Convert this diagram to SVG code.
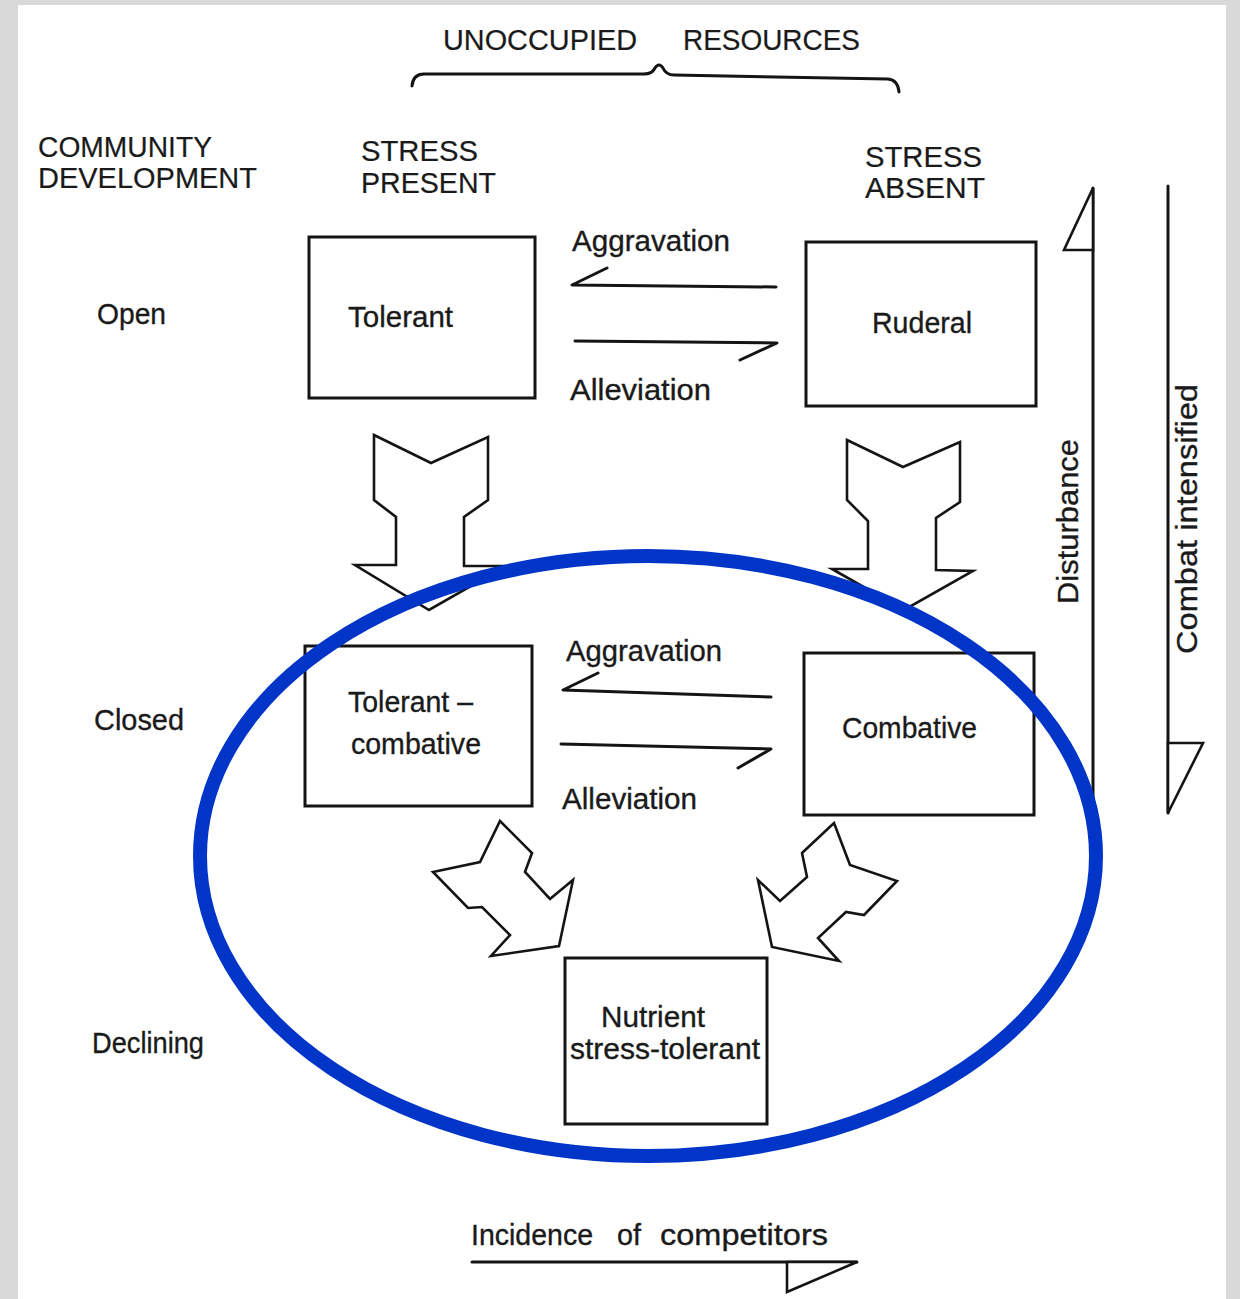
<svg xmlns="http://www.w3.org/2000/svg" width="1240" height="1299" viewBox="0 0 1240 1299">
  <defs>
    <style>
      .t { font-family: "Liberation Sans", Arial, sans-serif; fill: #1a1a1a; font-size: 30px; stroke: #1a1a1a; stroke-width: 0.35; }
      .cap { font-size: 29px; stroke-width: 0.2; }
      .box { fill: none; stroke: #141414; stroke-width: 3; }
      .ln { fill: none; stroke: #141414; stroke-width: 3; stroke-linecap: round; stroke-linejoin: round; }
      .blk { fill: #ffffff; stroke: #141414; stroke-width: 2.6; stroke-linejoin: miter; }
      .tri { fill: #ffffff; stroke: #141414; stroke-width: 2.6; stroke-linejoin: miter; }
    </style>
  </defs>

  <!-- page -->
  <rect x="0" y="0" width="1240" height="1299" fill="#d9d9d9"/>
  <rect x="18" y="5" width="1208" height="1294" fill="#ffffff"/>

  <!-- headers -->
  <g id="header-unoccupied">
    <text class="t cap" x="443" y="50" textLength="194" lengthAdjust="spacingAndGlyphs">UNOCCUPIED</text>
    <text class="t cap" x="683" y="50" textLength="177" lengthAdjust="spacingAndGlyphs">RESOURCES</text>
    <path class="ln" d="M412,86 Q413,74 424,74 L644,74 Q652,74 655,68 Q659,62 663,68 Q666,75 674,75 L888,79 Q898,80 899,92" stroke-width="2.6"/>
  </g>
  <g id="header-community">
    <text class="t cap" x="38" y="157" textLength="174" lengthAdjust="spacingAndGlyphs">COMMUNITY</text>
    <text class="t cap" x="38" y="188" textLength="219" lengthAdjust="spacingAndGlyphs">DEVELOPMENT</text>
  </g>
  <g id="header-stress-present">
    <text class="t cap" x="361" y="161" textLength="117" lengthAdjust="spacingAndGlyphs">STRESS</text>
    <text class="t cap" x="361" y="193" textLength="135" lengthAdjust="spacingAndGlyphs">PRESENT</text>
  </g>
  <g id="header-stress-absent">
    <text class="t cap" x="865" y="167" textLength="117" lengthAdjust="spacingAndGlyphs">STRESS</text>
    <text class="t cap" x="865" y="198" textLength="120" lengthAdjust="spacingAndGlyphs">ABSENT</text>
  </g>

  <!-- row labels -->
  <g id="row-open"><text class="t" x="97" y="324" textLength="69" lengthAdjust="spacingAndGlyphs">Open</text></g>
  <g id="row-closed"><text class="t" x="94" y="730" textLength="90" lengthAdjust="spacingAndGlyphs">Closed</text></g>
  <g id="row-declining"><text class="t" x="92" y="1053" textLength="112" lengthAdjust="spacingAndGlyphs">Declining</text></g>

  <!-- nodes -->
  <g id="node-tolerant">
    <rect class="box" x="309" y="237" width="226" height="161"/>
    <text class="t" x="348" y="327" textLength="105" lengthAdjust="spacingAndGlyphs">Tolerant</text>
  </g>
  <g id="node-ruderal">
    <rect class="box" x="806" y="242" width="230" height="164"/>
    <text class="t" x="872" y="333" textLength="100" lengthAdjust="spacingAndGlyphs">Ruderal</text>
  </g>
  <g id="node-tolerant-combative">
    <rect class="box" x="305" y="646" width="227" height="160"/>
    <text class="t" x="348" y="712" textLength="125" lengthAdjust="spacingAndGlyphs">Tolerant –</text>
    <text class="t" x="351" y="754" textLength="130" lengthAdjust="spacingAndGlyphs">combative</text>
  </g>
  <g id="node-combative">
    <rect class="box" x="804" y="653" width="230" height="162"/>
    <text class="t" x="842" y="738" textLength="135" lengthAdjust="spacingAndGlyphs">Combative</text>
  </g>
  <g id="node-nutrient">
    <rect class="box" x="565" y="958" width="202" height="166"/>
    <text class="t" x="601" y="1027" textLength="104" lengthAdjust="spacingAndGlyphs">Nutrient</text>
    <text class="t" x="570" y="1059" textLength="190" lengthAdjust="spacingAndGlyphs">stress-tolerant</text>
  </g>

  <!-- connectors -->
  <g id="connectors">
    <!-- top pair -->
    <path class="ln" d="M776,287 L572,285 L607,268"/>
    <path class="ln" d="M575,341 L777,343 L740,360"/>
    <text class="t" x="572" y="251" textLength="158" lengthAdjust="spacingAndGlyphs">Aggravation</text>
    <text class="t" x="570" y="400" textLength="141" lengthAdjust="spacingAndGlyphs">Alleviation</text>
    <!-- bottom pair -->
    <path class="ln" d="M771,697 L563,690 L598,673"/>
    <path class="ln" d="M561,744 L771,749 L738,768"/>
    <text class="t" x="566" y="661" textLength="156" lengthAdjust="spacingAndGlyphs">Aggravation</text>
    <text class="t" x="562" y="809" textLength="135" lengthAdjust="spacingAndGlyphs">Alleviation</text>

    <!-- block arrows down -->
    <polygon class="blk" points="374,435 431,463 488,437 488,500 464,517 464,566 506,566 429,610 355,565 396,565 396,517 374,500"/>
    <polygon class="blk" points="847,440 903,467 960,442 960,502 936,518 936,570 973,571 904,610 832,569 868,569 868,521 847,500"/>
    <!-- diagonal block arrows -->
    <polygon class="blk" points="500,821 532,853 525,872 550,899 573,880 559,946 491,956 510,935 482,907 468,908 433,872 480,862"/>
    <polygon class="blk" points="834,823 850,865 897,881 864,915 846,912 818,938 839,961 772,947 758,880 780,901 807,877 802,853"/>

    <!-- disturbance / combat axes -->
    <line class="ln" x1="1093" y1="188" x2="1093" y2="816" stroke-width="2.6"/>
    <polygon class="tri" points="1093,188 1064,250 1093,250"/>
    <text class="t" transform="translate(1078,604) rotate(-90)" textLength="165" lengthAdjust="spacingAndGlyphs">Disturbance</text>
    <line class="ln" x1="1168" y1="186" x2="1168" y2="813" stroke-width="2.6"/>
    <polygon class="tri" points="1168,743 1203,743 1168,813"/>
    <text class="t" transform="translate(1197,654) rotate(-90)" textLength="270" lengthAdjust="spacingAndGlyphs">Combat  intensified</text>

    <!-- incidence of competitors -->
    <text class="t" y="1245" font-size="30">
      <tspan x="471" textLength="122" lengthAdjust="spacingAndGlyphs">Incidence</tspan>
      <tspan x="617" textLength="24" lengthAdjust="spacingAndGlyphs">of</tspan>
      <tspan x="660" textLength="168" lengthAdjust="spacingAndGlyphs">competitors</tspan>
    </text>
    <line class="ln" x1="472" y1="1262" x2="857" y2="1262" stroke-width="2.6"/>
    <polygon class="tri" points="787,1262 857,1262 787,1292"/>
  </g>

  <!-- highlight ellipse -->
  <ellipse id="highlight" cx="648" cy="856" rx="448" ry="300" fill="none" stroke="#0035c8" stroke-width="14"/>
</svg>
